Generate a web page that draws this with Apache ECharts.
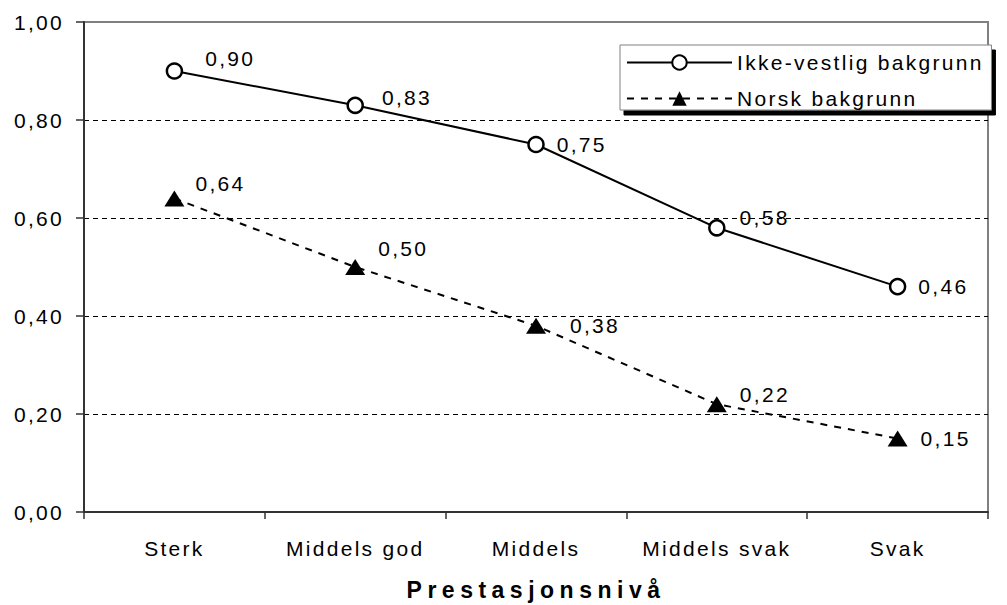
<!DOCTYPE html>
<html>
<head>
<meta charset="utf-8">
<script src="https://cdn.jsdelivr.net/npm/echarts@6/dist/echarts.min.js"></script>
<style>
  html, body { margin: 0; padding: 0; background: #fff; }
  #myChart { width: 1007px; height: 605px; }
  #myChart svg text { letter-spacing: 2.3px; }
  #myChart svg text[style*="bold"] { letter-spacing: 5.5px; }
</style>
</head>
<body>
<div id="myChart"></div>
<script>
let categories = ['Sterk', 'Middels god', 'Middels', 'Middels svak', 'Svak']
let ikkeVestlig = [0.90, 0.83, 0.75, 0.58, 0.46]
let norsk = [0.64, 0.50, 0.38, 0.22, 0.15]
let seriesNames = ['Ikke-vestlig bakgrunn', 'Norsk bakgrunn']
let axisTitle = 'Prestasjonsnivå'

// label nudges, copied by eye from the original
let ikkeOffsets = [[22, -13], [18, -8], [12, 0], [14, -10], [12, 0]]
let norskOffsets = [[11, -15], [13, -19], [24, 0], [13, -10], [13, 0]]

const font = 'Liberation Sans, Arial, sans-serif'
const fmt = function (v) { return v.toFixed(2).replace('.', ',') }

function withLabels (values, offsets) {
  return values.map(function (v, i) {
    return { value: v, label: { offset: offsets[i] } }
  })
}

let myChart = echarts.init(document.getElementById('myChart'), null, { renderer: 'svg' })
myChart.setOption({
  animation: false,
  backgroundColor: '#fff',
  textStyle: { fontFamily: font },
  grid: {
    left: 84,
    right: 19,
    top: 22,
    bottom: 93,
    containLabel: false,
    outerBoundsMode: 'none',
    show: true,
    borderColor: '#808080',
    borderWidth: 2
  },
  legend: {
    left: 620,
    top: 45,
    orient: 'vertical',
    backgroundColor: '#fff',
    borderColor: '#808080',
    borderWidth: 1,
    shadowColor: '#000',
    shadowOffsetX: 4,
    shadowOffsetY: 5,
    shadowBlur: 0,
    padding: [7, 56, 1, 6],
    itemWidth: 105,
    itemHeight: 18,
    itemGap: 15,
    textStyle: { fontSize: 21, color: '#000', fontFamily: font, lineHeight: 18 },
    data: seriesNames
  },
  xAxis: {
    type: 'category',
    data: categories,
    boundaryGap: true,
    name: axisTitle,
    nameLocation: 'middle',
    nameGap: 66,
    nameTextStyle: { fontSize: 23, fontWeight: 'bold', color: '#000', fontFamily: font },
    axisLine: { lineStyle: { color: '#333', width: 2 } },
    axisTick: { show: true, length: 7, lineStyle: { color: '#333', width: 1.5 } },
    axisLabel: { fontSize: 21, color: '#000', margin: 26, fontFamily: font },
    splitLine: { show: false }
  },
  yAxis: {
    type: 'value',
    min: 0,
    max: 1,
    interval: 0.2,
    axisLine: { show: true, lineStyle: { color: '#333', width: 2 } },
    axisTick: { show: true, length: 8, lineStyle: { color: '#333', width: 1.5 } },
    axisLabel: { fontSize: 21, color: '#000', margin: 20, fontFamily: font, formatter: fmt },
    splitLine: {
      show: true,
      lineStyle: {
        color: ['transparent', '#000', '#000', '#000', '#000', 'transparent'],
        width: 1,
        type: [5, 4]
      }
    }
  },
  series: [
    {
      name: seriesNames[0],
      type: 'line',
      data: withLabels(ikkeVestlig, ikkeOffsets),
      symbol: 'circle',
      symbolSize: 15,
      itemStyle: { color: '#fff', borderColor: '#000', borderWidth: 2.5 },
      lineStyle: { color: '#000', width: 2, type: 'solid' },
      label: {
        show: true,
        position: 'right',
        distance: 0,
        fontSize: 21,
        color: '#000',
        fontFamily: font,
        formatter: function (p) { return fmt(p.value) }
      },
      z: 3
    },
    {
      name: seriesNames[1],
      type: 'line',
      data: withLabels(norsk, norskOffsets),
      symbol: 'triangle',
      symbolSize: [20, 16],
      itemStyle: { color: '#000', borderColor: '#000', borderWidth: 0 },
      lineStyle: { color: '#000', width: 2, type: [7, 7] },
      label: {
        show: true,
        position: 'right',
        distance: 0,
        fontSize: 21,
        color: '#000',
        fontFamily: font,
        formatter: function (p) { return fmt(p.value) }
      },
      z: 3
    }
  ]
})
</script>
</body>
</html>
